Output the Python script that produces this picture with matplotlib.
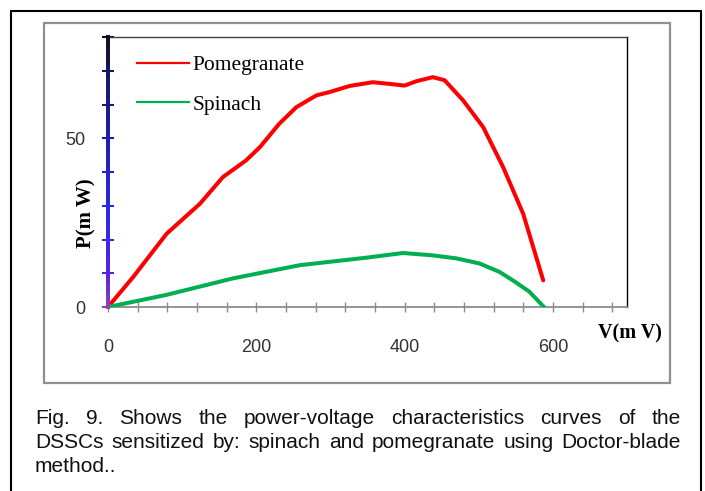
import matplotlib
matplotlib.use('Agg')
import matplotlib.pyplot as plt
import numpy as np
from matplotlib.collections import LineCollection
from matplotlib.colors import LinearSegmentedColormap
from matplotlib.lines import Line2D
from matplotlib.patches import Rectangle

# P-V curves (V in mV, P in mW)
pom_v = [0, 34, 79, 124, 155, 186, 205, 231, 254, 281, 299, 326, 357, 380,
         400, 416, 438, 454, 479, 506, 533, 560, 587]
pom_p = [0, 8.9, 21.7, 30.6, 38.5, 43.4, 47.4, 54.3, 59.2, 62.7, 63.7, 65.5,
         66.6, 66.1, 65.6, 66.9, 68.1, 67.2, 61.2, 53.3, 41.4, 27.6, 7.9]
spin_v = [0, 79, 169, 259, 348, 398, 438, 470, 501, 528, 546, 568, 588]
spin_p = [0, 3.6, 8.5, 12.4, 14.6, 16.0, 15.3, 14.4, 12.9, 10.4, 7.9, 4.6, 0]

series_names = ['Pomegranate', 'Spinach']
x_labels = [0, 200, 400, 600]
y_labels = [0, 50]
caption_lines = [
    "Fig. 9. Shows the power-voltage characteristics curves of the",
    "DSSCs sensitized by: spinach and pomegranate using Doctor-blade",
    "method..",
]

W, H = 705, 491
fig = plt.figure(figsize=(W / 100, H / 100), dpi=100)

# outer black frame (open at the bottom) and the grey chart frame
fig.patches.append(Rectangle((11 / W, -0.05), (701 - 11) / W, 1 - 11 / H + 0.05,
                             transform=fig.transFigure, fill=False,
                             ec='black', lw=1.5))
fig.patches.append(Rectangle((44 / W, 1 - 383 / H), (670 - 44) / W, (383 - 23) / H,
                             transform=fig.transFigure, fill=False,
                             ec='#909090', lw=1.6))

ax = fig.add_axes([108 / W, 1 - 307 / H, (627 - 108) / W, (307 - 37) / H])

ax.plot(pom_v, pom_p, color='#ff0000', lw=2.9, solid_capstyle='round',
        solid_joinstyle='round', zorder=3)
ax.plot(spin_v, spin_p, color='#00b050', lw=2.9, solid_capstyle='round',
        solid_joinstyle='round', zorder=3)

ax.set_xlim(0, 700)
ax.set_ylim(0, 80)

# spines
ax.spines['left'].set_visible(False)
ax.spines['bottom'].set_color('#8c8c8c')
ax.spines['bottom'].set_linewidth(1.3)
ax.spines['top'].set_color('#404040')
ax.spines['top'].set_linewidth(1.0)
ax.spines['right'].set_color('black')
ax.spines['right'].set_linewidth(1.0)

# left axis line with a colour gradient (purple -> blue -> navy -> black)
cmap = LinearSegmentedColormap.from_list(
    'yaxis', [(0.0, '#9040b0'), (0.12, '#5a22e0'), (0.35, '#2a2ae6'),
              (0.6, '#2020b0'), (0.85, '#18186a'), (1.0, '#101018')])
yy = np.linspace(0, 1, 60)
segs = [[(0, a), (0, b)] for a, b in zip(yy[:-1], yy[1:])]
lc = LineCollection(segs, colors=cmap(yy[:-1]), linewidths=1.6,
                    transform=ax.transAxes, clip_on=False, zorder=5,
                    capstyle='projecting', antialiaseds=False)
ax.add_collection(lc)

ax.set_xticks(x_labels)
ax.set_xticks(np.arange(0, 700, 40), minor=True)
ax.set_yticks(y_labels)
ax.set_yticks(np.arange(0, 81, 10), minor=True)

tick_font = {'family': 'Liberation Sans', 'size': 13}
ax.set_xticklabels([str(v) for v in x_labels], color='#333333', **tick_font)
ax.set_yticklabels([str(v) for v in y_labels], color='#333333', **tick_font)

ax.tick_params(axis='x', which='both', direction='inout', length=6.5,
               width=1.0, color='#8c8c8c')
ax.tick_params(axis='x', which='major', pad=20)
ax.tick_params(axis='y', which='both', direction='inout', length=8,
               width=1.5)
ax.tick_params(axis='y', which='major', pad=12)

# colour each y tick like the axis line at its height
for locs, ticks in ((ax.yaxis.get_majorticklocs(), ax.yaxis.get_major_ticks),
                    (ax.yaxis.get_minorticklocs(), ax.yaxis.get_minor_ticks)):
    for loc, tk in zip(locs, ticks(len(locs))):
        tk.tick1line.set_markeredgecolor(cmap(loc / 80.0))

# legend
handles = [Line2D([], [], color='#ff0000', lw=1.6),
           Line2D([], [], color='#00b050', lw=1.6)]
ax.legend(handles, series_names, loc='upper left',
          bbox_to_anchor=(0.056, 0.933), frameon=False, borderpad=0,
          borderaxespad=0, handlelength=2.42, handletextpad=0.15,
          labelspacing=0.92, prop={'family': 'Liberation Serif', 'size': 15.5})

# axis titles
fig.text(86 / W, 1 - 213 / H, 'P(m W)', rotation=90, ha='center', va='center',
         family='Liberation Serif', weight='bold', size=15)
fig.text(629.5 / W, 1 - 333 / H, 'V(m V)', ha='center', va='center',
         family='Liberation Serif', weight='bold', size=14.5)

# justified caption
renderer = fig.canvas.get_renderer()
left, right = 35, 681
for i, line in enumerate(caption_lines):
    y = 1 - (418 + 24.5 * i) / H
    words = line.split()
    texts = [fig.text(0, y, w, va='center', ha='left', color='#111111',
                      family='Liberation Sans', size=15) for w in words]
    widths = [t.get_window_extent(renderer).width for t in texts]
    if i < len(caption_lines) - 1 and len(words) > 1:
        gap = (right - left - sum(widths)) / (len(words) - 1)
    else:
        gap = 4.5
    x = left
    for t, w in zip(texts, widths):
        t.set_x(x / W)
        x += w + gap

fig.savefig('out.png', dpi=100)
